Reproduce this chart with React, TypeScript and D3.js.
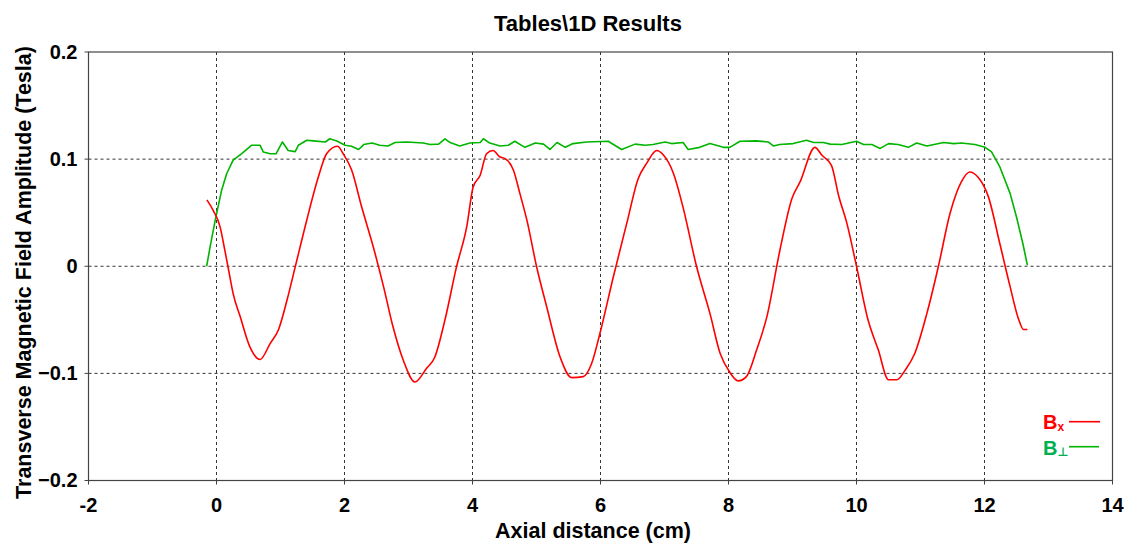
import React from "react";
import * as d3 from "d3";

// Axial positions (cm) and transverse field components (T)
const bxPosition = [
  -0.15, -0.05, 0.055, 0.13, 0.2, 0.26, 0.37, 0.52, 0.68, 0.84, 0.97, 1.1, 1.23, 1.41, 1.59, 1.72, 1.89, 1.98,
  2.11, 2.27, 2.45, 2.61, 2.76, 2.92, 3.1, 3.28, 3.41, 3.57, 3.75, 3.91, 4.01, 4.12, 4.22, 4.32, 4.43, 4.51,
  4.64, 4.74, 4.85, 5.0, 5.16, 5.37, 5.55, 5.73, 5.86, 5.99, 6.2, 6.41, 6.59, 6.72, 6.88, 6.98, 7.14, 7.29,
  7.5, 7.71, 7.87, 8.02, 8.15, 8.28, 8.44, 8.6, 8.8, 8.99, 9.12, 9.35, 9.46, 9.61, 9.72, 9.85, 10.0, 10.18,
  10.34, 10.5, 10.63, 10.76, 10.91, 11.1, 11.28, 11.46, 11.64, 11.77, 11.9, 12.06, 12.24, 12.4, 12.53, 12.61,
  12.67,
];
const bxValues = [
  0.062, 0.052, 0.037, 0.015, -0.007, -0.0255, -0.047, -0.075, -0.087, -0.072, -0.059, -0.032, -0.0006, 0.043,
  0.083, 0.105, 0.112, 0.105, 0.09, 0.055, 0.018, -0.019, -0.057, -0.088, -0.108, -0.0955, -0.085, -0.05,
  -0.0006, 0.037, 0.074, 0.085, 0.105, 0.108, 0.102, 0.1005, 0.0896, 0.068, 0.043, 0.0, -0.038, -0.085,
  -0.104, -0.103, -0.091, -0.063, -0.01, 0.04, 0.082, 0.096, 0.108, 0.104, 0.0866, 0.055, 0.0, -0.044,
  -0.0815, -0.099, -0.107, -0.103, -0.078, -0.047, 0.014, 0.063, 0.079, 0.111, 0.1036, 0.094, 0.066, 0.04,
  0.0, -0.05, -0.078, -0.106, -0.106, -0.097, -0.0815, -0.044, 0.0, 0.049, 0.079, 0.088, 0.083, 0.065, 0.021,
  -0.019, -0.049, -0.059, -0.059,
];

const bPerpPosition = [
  -0.154, -0.1, -0.02, 0.08, 0.16, 0.26, 0.39, 0.55, 0.68, 0.73, 0.84, 0.93, 1.03, 1.12, 1.23, 1.28, 1.41,
  1.51, 1.7, 1.77, 1.88, 2.01, 2.11, 2.22, 2.3, 2.43, 2.55, 2.68, 2.79, 2.97, 3.23, 3.34, 3.47, 3.57, 3.65,
  3.8, 3.96, 4.12, 4.17, 4.27, 4.43, 4.56, 4.66, 4.82, 4.98, 5.11, 5.21, 5.32, 5.45, 5.57, 5.78, 6.12, 6.33,
  6.54, 6.7, 6.82, 7.01, 7.11, 7.29, 7.37, 7.55, 7.71, 7.92, 8.02, 8.18, 8.44, 8.62, 8.7, 8.8, 9.01, 9.22,
  9.33, 9.48, 9.59, 9.77, 10.0, 10.11, 10.24, 10.37, 10.5, 10.65, 10.81, 10.94, 11.1, 11.36, 11.52, 11.64,
  11.85, 12.01, 12.11, 12.24, 12.4, 12.5, 12.6, 12.67,
];
const bPerpValues = [
  0.0, 0.018, 0.043, 0.071, 0.0866, 0.099, 0.105, 0.113, 0.113, 0.1067, 0.105, 0.105, 0.116, 0.108, 0.107,
  0.113, 0.1176, 0.117, 0.116, 0.119, 0.117, 0.113, 0.112, 0.109, 0.1136, 0.115, 0.113, 0.1123, 0.1155, 0.116,
  0.115, 0.1136, 0.114, 0.119, 0.1155, 0.1123, 0.115, 0.1155, 0.119, 0.115, 0.1123, 0.113, 0.1167, 0.111,
  0.115, 0.114, 0.109, 0.1155, 0.111, 0.1145, 0.116, 0.1167, 0.109, 0.114, 0.113, 0.1136, 0.116, 0.1145,
  0.1155, 0.109, 0.111, 0.1145, 0.111, 0.111, 0.1167, 0.117, 0.116, 0.1123, 0.1136, 0.1145, 0.1176, 0.1155,
  0.1155, 0.114, 0.1136, 0.1167, 0.1136, 0.1136, 0.11, 0.1145, 0.1136, 0.111, 0.115, 0.1123, 0.1155, 0.1145,
  0.115, 0.1136, 0.111, 0.1067, 0.0927, 0.068, 0.046, 0.021, 0.001,
];

const xTicks = [-2, 0, 2, 4, 6, 8, 10, 12, 14];
const yTicks = [-0.2, -0.1, 0, 0.1, 0.2];

const WIDTH = 1140;
const HEIGHT = 546;
const plot = { left: 88.5, right: 1112.5, top: 52, bottom: 480.5 };
const FONT = "'Liberation Sans', Arial, sans-serif";
const RED = "#ff0000";
const GREEN = "#00b400";

export default function App() {
  const x = d3.scaleLinear().domain([-2, 14]).range([plot.left, plot.right]);
  const y = d3.scaleLinear().domain([-0.2, 0.2]).range([plot.bottom, plot.top]);

  const smoothLine = d3
    .line<[number, number]>()
    .curve(d3.curveMonotoneX)
    .x((d) => x(d[0]))
    .y((d) => y(d[1]));
  const straightLine = d3
    .line<[number, number]>()
    .x((d) => x(d[0]))
    .y((d) => y(d[1]));

  const bxPath = smoothLine(bxPosition.map((p, i) => [p, bxValues[i]] as [number, number])) || "";
  const bPerpPath =
    straightLine(bPerpPosition.map((p, i) => [p, bPerpValues[i]] as [number, number])) || "";

  const fmtY = (v: number) => (v === 0 ? "0" : d3.format(".1f")(v));

  return (
    <svg
      width={WIDTH}
      height={HEIGHT}
      style={{ position: "absolute", left: 0, top: 0, background: "#fff" }}
      fontFamily={FONT}
    >
      <rect x={0} y={0} width={WIDTH} height={HEIGHT} fill="#fff" />

      {/* grid */}
      {xTicks
        .filter((t) => t > -2 && t < 14)
        .map((t) => (
          <line
            key={"gx" + t}
            x1={x(t)}
            x2={x(t)}
            y1={plot.top}
            y2={plot.bottom}
            stroke="#333"
            strokeDasharray="3,3"
          />
        ))}
      {yTicks
        .filter((t) => t > -0.2 && t < 0.2)
        .map((t) => (
          <line
            key={"gy" + t}
            x1={plot.left}
            x2={plot.right}
            y1={y(t)}
            y2={y(t)}
            stroke="#333"
            strokeDasharray="3,3"
          />
        ))}

      {/* frame and ticks */}
      <rect
        x={plot.left}
        y={plot.top}
        width={plot.right - plot.left}
        height={plot.bottom - plot.top}
        fill="none"
        stroke="#444"
        strokeWidth={1.2}
      />
      {xTicks.map((t) => (
        <line key={"tx" + t} x1={x(t)} x2={x(t)} y1={plot.bottom} y2={plot.bottom + 4} stroke="#444" />
      ))}
      {yTicks.map((t) => (
        <line key={"ty" + t} x1={plot.left - 4} x2={plot.left} y1={y(t)} y2={y(t)} stroke="#444" />
      ))}

      {/* tick labels */}
      {xTicks.map((t) => (
        <text
          key={"lx" + t}
          x={x(t)}
          y={512}
          textAnchor="middle"
          fontSize={20}
          fontWeight="bold"
          fill="#000"
        >
          {t}
        </text>
      ))}
      {yTicks.map((t) => (
        <text
          key={"ly" + t}
          x={77.5}
          y={y(t) + 6.8}
          textAnchor="end"
          fontSize={20}
          fontWeight="bold"
          fill="#000"
        >
          {fmtY(t)}
        </text>
      ))}

      {/* series */}
      <path d={bPerpPath} fill="none" stroke={GREEN} strokeWidth={1.6} strokeLinejoin="round" />
      <path d={bxPath} fill="none" stroke={RED} strokeWidth={1.6} strokeLinejoin="round" />

      {/* titles */}
      <text x={588} y={31} textAnchor="middle" fontSize={22} fontWeight="bold" fill="#000">
        Tables\1D Results
      </text>
      <text x={593} y={538} textAnchor="middle" fontSize={21.5} fontWeight="bold" fill="#000">
        Axial distance (cm)
      </text>
      <text
        transform="translate(31,272.5) rotate(-90)"
        textAnchor="middle"
        fontSize={21.5}
        fontWeight="bold"
        fill="#000"
      >
        Transverse Magnetic Field Amplitude (Tesla)
      </text>

      {/* legend */}
      <text x={1043} y={429.3} fontSize={20} fontWeight="bold" fill={RED}>
        B
        <tspan fontSize={12} dy={2}>
          x
        </tspan>
      </text>
      <line x1={1069} x2={1100} y1={421.7} y2={421.7} stroke={RED} strokeWidth={1.6} />
      <text x={1043} y={455} fontSize={20} fontWeight="bold" fill="#00b050">
        B
        <tspan fontSize={12} dy={1} fontFamily="'DejaVu Sans', sans-serif">
          ⊥
        </tspan>
      </text>
      <line x1={1069} x2={1099} y1={446.7} y2={446.7} stroke={GREEN} strokeWidth={1.6} />
    </svg>
  );
}
